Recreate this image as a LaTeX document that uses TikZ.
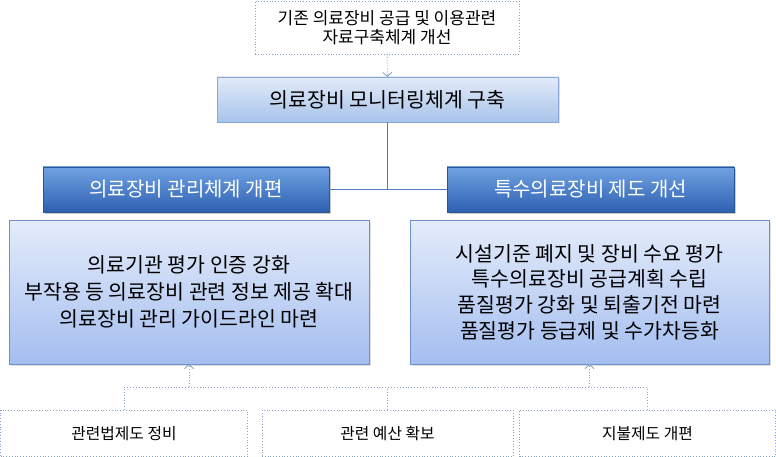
\documentclass[tikz,border=0pt]{standalone}
\usepackage{fontspec}
\setmainfont{Noto Sans CJK KR}
\usetikzlibrary{shadows,arrows.meta}
\definecolor{dotc}{HTML}{8CA2C4}
\definecolor{treec}{HTML}{4F7CBF}
\definecolor{lightborder}{HTML}{6F8FC8}
\definecolor{darkborder}{HTML}{2A5595}
\tikzset{
  every node/.style={inner sep=0pt, outer sep=0pt},
  dotbox/.style={draw=dotc, dotted, line width=0.8pt, fill=white, anchor=north west, align=center},
  monbox/.style={draw=lightborder!80, line width=0.6pt, top color={rgb,255:red,226;green,235;blue,249}, bottom color={rgb,255:red,168;green,195;blue,234},
     anchor=north west, align=center, drop shadow={opacity=0.25, shadow xshift=1.5pt, shadow yshift=-1.5pt}},
  darkbox/.style={draw=darkborder, line width=0.6pt, top color={rgb,255:red,112;green,162;blue,226}, bottom color={rgb,255:red,46;green,96;blue,178},
     text=white, anchor=north west, align=center, drop shadow={opacity=0.4, shadow xshift=2pt, shadow yshift=-2pt}},
  lightbox/.style={draw=lightborder, line width=0.6pt, top color={rgb,255:red,228;green,236;blue,250}, bottom color={rgb,255:red,164;green,190;blue,240},
     anchor=north west, align=center, drop shadow={opacity=0.25, shadow xshift=2pt, shadow yshift=-2pt}},
  treeline/.style={draw=treec, line width=1.5pt},
  dotline/.style={draw=dotc, dotted, line width=0.9pt},
  dotarrow/.style={dotline, -{Straight Barb[length=4pt,width=9pt]}},
}
\begin{document}
\begin{tikzpicture}[x=1pt,y=-1pt]
\useasboundingbox (0,0) rectangle (776,457);
% top
\node[dotbox, minimum width=264pt, minimum height=53pt, font=\fontsize{17}{19.5}\selectfont] (top) at (255,1) {기존 의료장비 공급 및 이용관련\\자료구축체계 개선};
\node[monbox, minimum width=341pt, minimum height=45pt, font=\fontsize{20.5}{23}\selectfont] (mon) at (217,77) {의료장비 모니터링체계 구축};
\draw[dotarrow] (top.south) -- (mon.north);
% dark boxes
\node[darkbox, minimum width=286pt, minimum height=45pt, font=\fontsize{20}{23}\selectfont] (ld) at (43,167) {의료장비 관리체계 개편};
\node[darkbox, minimum width=287pt, minimum height=45pt, font=\fontsize{20}{23}\selectfont] (rd) at (447,167) {특수의료장비 제도 개선};
\draw[treeline] (ld.east) -- (rd.west);
\draw[treeline] (mon.south) -- (mon.south |- ld.east);
% light boxes
\node[lightbox, minimum width=360pt, minimum height=144pt, font=\fontsize{20.5}{27}\selectfont] (lb) at (9,220) {의료기관 평가 인증 강화\\부작용 등 의료장비 관련 정보 제공 확대\\의료장비 관리 가이드라인 마련};
\node[lightbox, minimum width=359pt, minimum height=144pt, font=\fontsize{20.5}{25.7}\selectfont] (rb) at (410,220) {시설기준 폐지 및 장비 수요 평가\\특수의료장비 공급계획 수립\\품질평가 강화 및 퇴출기전 마련\\품질평가 등급제 및 수가차등화};
% bottom boxes
\node[dotbox, minimum width=247pt, minimum height=46.5pt, font=\fontsize{15.8}{19}\selectfont] (b1) at (0.5,410) {관련법제도 정비};
\node[dotbox, minimum width=251pt, minimum height=46.5pt, font=\fontsize{15.8}{19}\selectfont] (b2) at (262,410) {관련 예산 확보};
\node[dotbox, minimum width=256pt, minimum height=46.5pt, font=\fontsize{15.8}{19}\selectfont] (b3) at (519.5,410) {지불제도 개편};
\coordinate (j) at (386,387);
\draw[dotline] (b1.north) -- (b1.north |- j) -- (b3.north |- j) -- (b3.north);
\draw[dotline] (b2.north) -- (b2.north |- j);
\draw[dotarrow] (lb.south |- j) -- (lb.south);
\draw[dotarrow] (rb.south |- j) -- (rb.south);
\end{tikzpicture}
\end{document}
